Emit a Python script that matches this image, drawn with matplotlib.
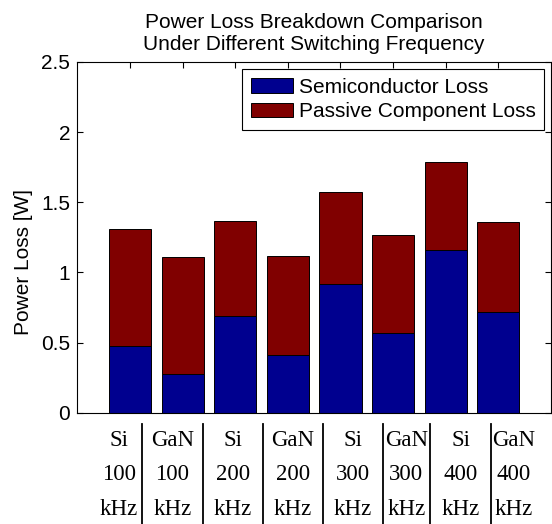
#!/usr/bin/env python3

import matplotlib
matplotlib.use('Agg')
import matplotlib.pyplot as plt
from matplotlib.lines import Line2D

# device / frequency for each bar
devices = ['Si', 'GaN', 'Si', 'GaN', 'Si', 'GaN', 'Si', 'GaN']
freqs_khz = [100, 100, 200, 200, 300, 300, 400, 400]

# stacked loss components [W]
semi_loss = [0.476, 0.274, 0.686, 0.412, 0.919, 0.567, 1.157, 0.717]
passive_loss = [0.836, 0.836, 0.683, 0.705, 0.655, 0.700, 0.633, 0.643]

series_names = ['Semiconductor Loss', 'Passive Component Loss']
yticks = [0, 0.5, 1, 1.5, 2, 2.5]

BLUE = '#00008F'
RED = '#800000'

W, H = 552, 524
# x edges (pixels) of the label table columns under the axes
table_edges_px = [95.7, 142.3, 202.7, 262.7, 323.3, 382.7, 430.0, 491.0, 537.0]
table_baselines_px = [446, 480, 515]

plt.rcParams['font.family'] = ['Liberation Sans', 'DejaVu Sans']

fig = plt.figure(figsize=(W / 100, H / 100), dpi=100)
ax = fig.add_axes([77.3 / W, 1 - 412.7 / H, (551 - 77.3) / W, (412.7 - 62) / H])

x = list(range(1, len(devices) + 1))
ax.bar(x, semi_loss, width=0.8, color=BLUE, edgecolor='black', linewidth=0.7,
       label=series_names[0])
ax.bar(x, passive_loss, width=0.8, bottom=semi_loss, color=RED, edgecolor='black',
       linewidth=0.7, label=series_names[1])

ax.set_xlim(0, 9)
ax.set_ylim(0, 2.5)
ax.set_xticks(x)
ax.set_xticklabels([])
ax.set_yticks(yticks)
ax.set_yticklabels(['%g' % v for v in yticks])
ax.set_axisbelow(True)
ax.tick_params(direction='in', length=4, width=0.8, top=True, right=True,
               bottom=True, labelsize=15, pad=5, colors='black')
for sp in ax.spines.values():
    sp.set_linewidth(0.8)

ax.set_title('Power Loss Breakdown Comparison\nUnder Different Switching Frequency',
             fontsize=15, pad=8.5)
fig.text(24 / W, 1 - 261.5 / H, 'Power Loss [W]', rotation=90, fontsize=15,
         ha='center', va='center')

leg = ax.legend(loc='upper right', fontsize=15, fancybox=False, framealpha=1,
                edgecolor='black', borderaxespad=0.35, handlelength=2.05,
                handleheight=0.7, handletextpad=0.25, labelspacing=0.28,
                borderpad=0.4)
leg.get_frame().set_linewidth(0.8)

# label table below the axes: one column per bar, separated by vertical rules
for i in range(len(devices)):
    cx = (table_edges_px[i] + table_edges_px[i + 1]) / 2 / W
    cells = [devices[i], str(freqs_khz[i]), 'kHz']
    for row_y, cell in zip(table_baselines_px, cells):
        fig.text(cx, 1 - row_y / H, cell, ha='center', va='baseline', fontsize=16.5,
                 family=['Liberation Serif', 'DejaVu Serif'])
for ex in table_edges_px[1:-1]:
    fig.add_artist(Line2D([ex / W, ex / W], [1 - 424 / H, 0], color='black',
                          linewidth=1.3, transform=fig.transFigure))

fig.savefig('out.png', dpi=100)
